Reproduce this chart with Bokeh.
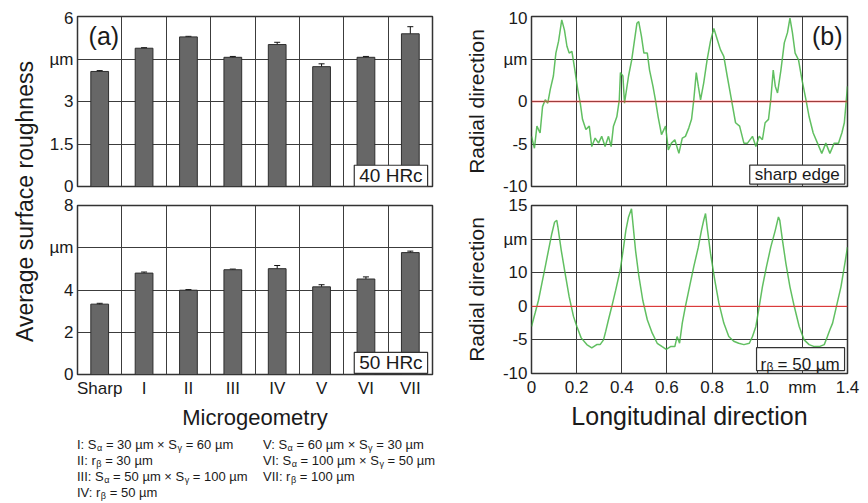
import math
from bokeh.plotting import figure
from bokeh.models import (Range1d, FixedTicker, Whisker, TeeHead, ColumnDataSource,
                          Label, Span, BoxAnnotation, Div)
from bokeh.layouts import row, column
from bokeh.embed import file_html
from bokeh.resources import INLINE

FONT = "Liberation Sans"

# ---------------- data: panel (a) ----------------
categories = ["Sharp", "I", "II", "III", "IV", "V", "VI", "VII"]
ra_40hrc = [4.06, 4.88, 5.28, 4.56, 5.01, 4.23, 4.56, 5.39]
err_40hrc = [0.03, 0.02, 0.02, 0.03, 0.08, 0.10, 0.03, 0.25]
ra_50hrc = [3.33, 4.80, 3.99, 4.96, 5.01, 4.15, 4.52, 5.77]
err_50hrc = [0.04, 0.05, 0.03, 0.03, 0.15, 0.10, 0.10, 0.07]

yticks_40 = [0, 1.5, 3, 4.5, 6]
ylabels_40 = ["0", "1.5", "3", "µm", "6"]
yticks_50 = [0, 2, 4, 6, 8]
ylabels_50 = ["0", "2", "4", "µm", "8"]

legend_col1 = ["I: S<sub>α</sub> = 30 µm × S<sub>γ</sub> = 60 µm",
               "II: r<sub>β</sub> = 30 µm",
               "III: S<sub>α</sub> = 50 µm × S<sub>γ</sub> = 100 µm",
               "IV: r<sub>β</sub> = 50 µm"]
legend_col2 = ["V: S<sub>α</sub> = 60 µm × S<sub>γ</sub> = 30 µm",
               "VI: S<sub>α</sub> = 100 µm × S<sub>γ</sub> = 50 µm",
               "VII: r<sub>β</sub> = 100 µm",
               ""]

# ---------------- data: panel (b) ----------------
sharp_x = [0.000, 0.013, 0.024, 0.038, 0.049, 0.061, 0.072, 0.083, 0.097, 0.108,
           0.120, 0.134, 0.146, 0.157, 0.167, 0.179, 0.191, 0.205, 0.216, 0.226,
           0.241, 0.256, 0.267, 0.282, 0.297, 0.311, 0.326, 0.341, 0.353, 0.363,
           0.378, 0.389, 0.394, 0.405, 0.412, 0.430, 0.444, 0.467, 0.475, 0.487,
           0.498, 0.513, 0.523, 0.538, 0.549, 0.561, 0.576, 0.594, 0.606, 0.620,
           0.635, 0.653, 0.668, 0.682, 0.697, 0.709, 0.719, 0.730, 0.739, 0.749,
           0.763, 0.778, 0.793, 0.808, 0.823, 0.837, 0.852, 0.867, 0.886, 0.904,
           0.922, 0.941, 0.957, 0.979, 0.994, 1.009, 1.023, 1.035, 1.050, 1.060,
           1.071, 1.080, 1.090, 1.105, 1.120, 1.134, 1.145, 1.156, 1.168, 1.183,
           1.198, 1.216, 1.230, 1.248, 1.267, 1.286, 1.304, 1.322, 1.341, 1.360,
           1.375, 1.386, 1.400]
sharp_y = [-4.1, -5.5, -2.9, -3.7, -0.6, 0.2, -0.2, 1.4, 3.0, 5.7,
           7.1, 9.6, 8.4, 6.5, 5.7, 5.9, 3.9, 1.4, -0.2, -2.1,
           -3.3, -2.9, -5.3, -4.3, -4.9, -4.1, -5.3, -4.1, -5.3, -2.9,
           -1.8, 0.2, 3.4, 3.0, -0.2, 3.0, 4.9, 9.2, 9.4, 7.7,
           5.7, 5.7, 3.7, 1.8, 0.2, -1.8, -3.9, -2.9, -5.7, -4.9,
           -4.5, -6.1, -4.3, -4.1, -3.1, -2.1, 0.2, 3.4, 1.8, 0.2,
           2.2, 4.9, 7.1, 8.6, 7.3, 6.1, 5.3, 3.0, 0.2, -2.5,
           -2.9, -4.9, -4.9, -4.1, -5.3, -4.1, -4.5, -2.5, -2.1, 0.2,
           3.7, 1.8, 1.0, 3.7, 6.9, 8.1, 9.8, 8.1, 5.7, 4.9,
           2.6, 0.2, -1.8, -3.7, -4.9, -6.1, -4.9, -6.1, -4.9, -4.9,
           -3.7, -2.5, 1.8]

r50_x = [0.000, 0.016, 0.031, 0.046, 0.061, 0.075, 0.090, 0.102, 0.112, 0.117,
         0.132, 0.149, 0.167, 0.186, 0.201, 0.220, 0.245, 0.267, 0.289, 0.304,
         0.319, 0.329, 0.341, 0.356, 0.373, 0.393, 0.408, 0.418, 0.430, 0.443,
         0.461, 0.476, 0.493, 0.513, 0.535, 0.557, 0.579, 0.597, 0.616, 0.635,
         0.645, 0.656, 0.668, 0.682, 0.700, 0.719, 0.739, 0.753, 0.763, 0.771,
         0.778, 0.793, 0.812, 0.830, 0.852, 0.874, 0.896, 0.918, 0.941, 0.965,
         0.979, 0.987, 0.994, 1.009, 1.023, 1.041, 1.060, 1.080, 1.094, 1.100,
         1.112, 1.127, 1.145, 1.164, 1.186, 1.208, 1.230, 1.253, 1.275, 1.297,
         1.311, 1.322, 1.334, 1.351, 1.371, 1.386, 1.400]
r50_y = [-3.0, -1.0, 0.9, 3.4, 5.9, 8.3, 10.8, 12.5, 12.8, 11.8,
         8.3, 4.9, 1.4, -1.5, -3.0, -4.7, -5.7, -6.2, -5.7, -5.7,
         -5.0, -3.7, -2.0, 0.0, 2.4, 5.4, 8.8, 11.3, 13.3, 14.5,
         8.3, 4.4, 0.9, -2.0, -4.0, -5.5, -6.0, -6.4, -6.0, -6.0,
         -4.5, -5.5, -2.5, 0.0, 2.9, 5.9, 8.8, 11.3, 12.8, 13.8,
         11.8, 7.9, 3.9, 0.5, -2.5, -4.5, -5.2, -5.5, -5.7, -5.5,
         -4.5, -3.7, -3.0, 0.0, 2.9, 5.9, 8.8, 11.3, 13.3, 12.8,
         9.8, 6.4, 2.9, 0.0, -3.0, -5.0, -5.7, -6.0, -6.0, -5.7,
         -4.5, -3.5, -2.5, 0.0, 2.9, 5.9, 8.8]

xticks_b = [0, 0.2, 0.4, 0.6, 0.8, 1.0, 1.2, 1.4]
xlabels_b = ["0", "0.2", "0.4", "0.6", "0.8", "1.0", "mm", "1.4"]
yticks_b1 = [-10, -5, 0, 5, 10]
ylabels_b1 = ["-10", "-5", "0", "µm", "10"]
yticks_b2 = [-10, -5, 0, 5, 10, 15]
ylabels_b2 = ["-10", "-5", "0", "10", "µm", "15"]

# ---------------- styling helpers ----------------
GRID = "#3c3c3c"
TXT = "#1a1a1a"


def base_fig(width, height, x_range, y_range, borders):
    left, right, top, bottom = borders
    p = figure(width=width, height=height, x_range=x_range, y_range=y_range,
               toolbar_location=None, output_backend="svg",
               min_border_left=left, min_border_right=right,
               min_border_top=top, min_border_bottom=bottom)
    p.outline_line_color = "#333333"
    p.outline_line_width = 1.5
    p.outline_line_alpha = 1.0
    p.background_fill_color = "white"
    p.border_fill_color = "white"
    for ax in (p.xaxis[0], p.yaxis[0]):
        ax.major_tick_out = 0
        ax.major_tick_in = 0
        ax.minor_tick_out = 0
        ax.minor_tick_in = 0
        ax.axis_line_color = None
        ax.major_label_text_font = FONT
        ax.major_label_text_font_size = "17px"
        ax.major_label_text_color = TXT
        ax.axis_label_text_font = FONT
        ax.axis_label_text_font_style = "normal"
        ax.axis_label_text_color = TXT
    p.yaxis.major_label_standoff = 4
    p.xaxis.major_label_standoff = 4
    for g in (p.xgrid[0], p.ygrid[0]):
        g.grid_line_color = GRID
        g.grid_line_width = 1
        g.grid_line_alpha = 1.0
    return p


def box_label(p, text, x, y, size="19px"):
    p.add_layout(Label(x=x, y=y, text=text, text_align="right", text_baseline="middle",
                       text_font=FONT, text_font_size=size, text_color=TXT,
                       background_fill_color="white", background_fill_alpha=1.0,
                       border_line_color="#333333", border_line_width=1.2,
                       padding=(5, 0)))


def bar_panel(values, errors, yticks, ylabels, height, borders, show_x):
    n = len(categories)
    ymax = yticks[-1]
    p = base_fig(396, height, Range1d(0, n), Range1d(0, ymax), borders)
    centers = [i + 0.5 for i in range(n)]
    p.vbar(x=centers, top=values, width=0.4, bottom=0,
           fill_color="#676767", line_color="#2e2e2e", line_width=1)
    src = ColumnDataSource(dict(base=centers,
                                upper=[v + e for v, e in zip(values, errors)],
                                lower=[v - e for v, e in zip(values, errors)]))
    p.add_layout(Whisker(source=src, base="base", upper="upper", lower="lower",
                         line_color="#111111", line_width=1,
                         upper_head=TeeHead(size=6, line_color="#111111", line_width=1),
                         lower_head=TeeHead(size=6, line_color="#111111", line_width=1)))
    p.yaxis.ticker = FixedTicker(ticks=yticks)
    p.yaxis.major_label_overrides = {t: l for t, l in zip(yticks, ylabels)}
    p.xgrid.ticker = FixedTicker(ticks=list(range(1, n)))
    p.xaxis.ticker = FixedTicker(ticks=centers)
    p.xaxis.major_label_overrides = {c: name for c, name in zip(centers, categories)}
    if show_x:
        p.xaxis.axis_label = "Microgeometry"
        p.xaxis.axis_label_text_font_size = "22px"
        p.xaxis.axis_label_standoff = 4
    else:
        p.xaxis.visible = False
    return p


# ---------------- panel (a) ----------------
p_a1 = bar_panel(ra_40hrc, err_40hrc, yticks_40, ylabels_40, 187, (33, 8, 8, 9), False)
p_a1.add_layout(Label(x=0.25, y=5.3, text="(a)", text_font=FONT, text_font_size="25px",
                      text_color=TXT, text_baseline="middle", text_align="left"))
box_label(p_a1, "40 HRc", 7.89, 0.38)

p_a2 = bar_panel(ra_50hrc, err_50hrc, yticks_50, ylabels_50, 237, (33, 8, 10, 56), True)
box_label(p_a2, "50 HRc", 7.89, 0.55)

# ---------------- panel (b) ----------------
def profile_panel(xs, ys, yticks, ylabels, height, borders, show_x, red_w, red_a):
    p = base_fig(420, height, Range1d(xticks_b[0], xticks_b[-1]),
                 Range1d(yticks[0], yticks[-1]), borders)
    p.xaxis.ticker = FixedTicker(ticks=xticks_b)
    p.xaxis.major_label_overrides = {t: l for t, l in zip(xticks_b, xlabels_b)}
    p.yaxis.ticker = FixedTicker(ticks=yticks)
    p.yaxis.major_label_overrides = {t: l for t, l in zip(yticks, ylabels)}
    p.yaxis.axis_label = "Radial direction"
    p.yaxis.axis_label_text_font_size = "21px"
    p.yaxis.axis_label_standoff = 12
    p.add_layout(Span(location=0, dimension="width", line_color="#ff3c3c",
                      line_width=red_w, line_alpha=red_a))
    p.line(xs, ys, line_color="#45b445", line_width=1.5, line_alpha=0.85)
    if show_x:
        p.xaxis.axis_label = "Longitudinal direction"
        p.xaxis.axis_label_text_font_size = "25px"
        p.xaxis.axis_label_standoff = 2
    else:
        p.xaxis.visible = False
    return p


p_b1 = profile_panel(sharp_x, sharp_y, yticks_b1, ylabels_b1, 187, (91, 13, 8, 9), False,
                     2.2, 0.5)
p_b1.add_layout(Label(x=1.31, y=7.7, text="(b)", text_font=FONT, text_font_size="25px",
                      text_color=TXT, text_baseline="middle", text_align="center"))
box_label(p_b1, "sharp edge", 1.388, -8.6, size="17px")

p_b2 = profile_panel(r50_x, r50_y, yticks_b2, ylabels_b2, 237, (91, 13, 10, 58), True,
                     1.3, 0.8)
p_b2.add_layout(BoxAnnotation(left=0.997, right=1.387, bottom=-9.56, top=-6.15,
                              fill_color="white", fill_alpha=1.0,
                              line_color="#333333", line_width=1.2, line_alpha=1.0))
for txt, yy, xo, fs in [("r", -8.6, 4, "17px"), ("β", -9.1, 10, "12px"),
                        ("= 50 µm", -8.6, 21, "17px")]:
    p_b2.add_layout(Label(x=0.997, y=yy, x_offset=xo, text=txt, text_font=FONT,
                          text_font_size=fs, text_color=TXT,
                          text_align="left", text_baseline="alphabetic"))

# ---------------- shared y label & legend ----------------
lab = figure(width=36, height=387, x_range=Range1d(0, 36), y_range=Range1d(0, 387),
             toolbar_location=None, output_backend="svg", min_border=0)
lab.axis.visible = False
lab.grid.visible = False
lab.outline_line_color = None
lab.add_layout(Label(x=16, y=194, text="Average surface roughness", angle=math.pi / 2,
                     text_align="center", text_baseline="middle", text_font=FONT,
                     text_font_size="23px", text_color=TXT))

sub_style = "font-size:70%;vertical-align:-2px;line-height:0;margin-left:0.5px"
cells = []
for a, b in zip(legend_col1, legend_col2):
    cells.append(f"<div>{a}</div><div>{b}</div>")
html = ("<div style=\"font-family:'Liberation Sans',Arial,sans-serif;font-size:13px;"
        "line-height:16px;color:#1a1a1a;padding:5px 0 0 33px;display:grid;"
        "grid-template-columns:186px auto;white-space:nowrap;\">"
        + "".join(cells).replace("<sub>", f"<sub style='{sub_style}'>") + "</div>")
legend = Div(text=html, width=396, height=70, margin=0)

layout = row(lab, column(p_a1, p_a2, legend), column(p_b1, p_b2), margin=(8, 0, 0, 8))

open("out.html", "w").write(file_html(layout, INLINE))
